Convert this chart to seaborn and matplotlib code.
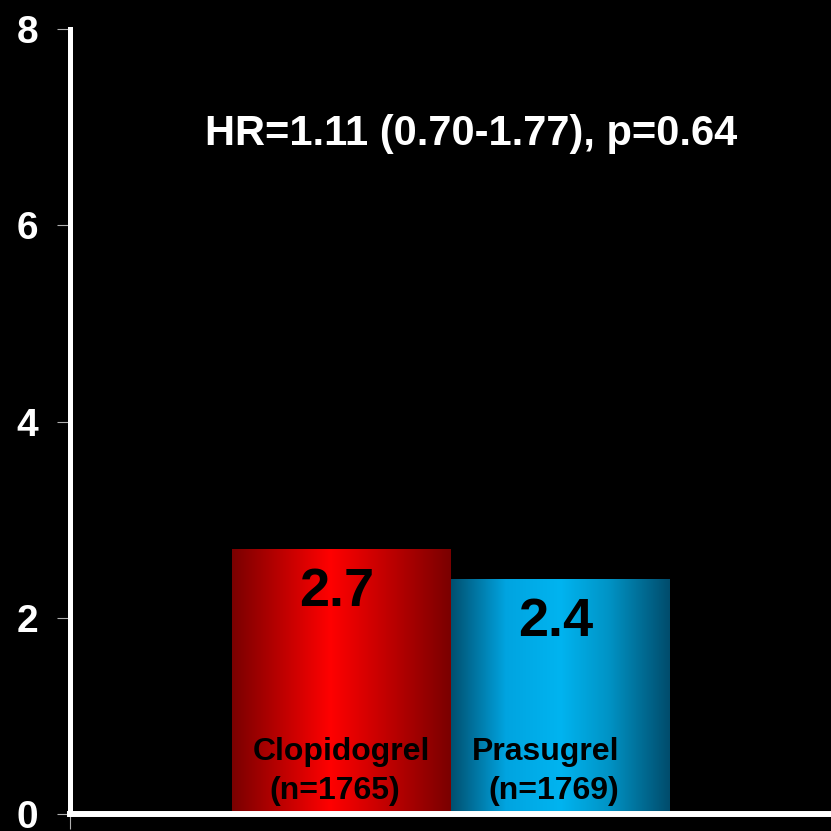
import numpy as np
import pandas as pd
import matplotlib
matplotlib.use("Agg")
import matplotlib.pyplot as plt
import seaborn as sns
from matplotlib.colors import LinearSegmentedColormap

# Event rates (%) by treatment arm
drugs = ["Clopidogrel", "Prasugrel"]
rates = [2.7, 2.4]
n_patients = [1765, 1769]
hr_text = "HR=1.11 (0.70-1.77), p=0.64"
y_ticks = [0, 2, 4, 6, 8]

sns.set_theme(style="white")
plt.rcParams["font.family"] = ["Liberation Sans", "DejaVu Sans"]
plt.rcParams["font.weight"] = "bold"

W = H = 831
fig = plt.figure(figsize=(W / 100, H / 100), dpi=100, facecolor="black")
ax = fig.add_axes([70 / W, 17 / H, 761 / W, 785 / H])
ax.set_facecolor("black")

df = pd.DataFrame({"drug": drugs, "rate": rates})
sns.barplot(data=df, x="drug", y="rate", ax=ax, width=1.0, color="red",
            errorbar=None, saturation=1)

# Cylinder-like horizontal shading for each bar
shades = [
    LinearSegmentedColormap.from_list("red_shade", [
        (0.0, "#7a0000"), (0.45, "#ff0000"), (1.0, "#7a0000")]),
    LinearSegmentedColormap.from_list("blue_shade", [
        (0.0, "#005070"), (0.25, "#00a4e0"), (0.5, "#00b4f0"),
        (0.72, "#0094c6"), (1.0, "#004c6c")]),
]
grad = np.linspace(0, 1, 256).reshape(1, -1)
for patch, cmap in zip(ax.patches, shades):
    x0, y0 = patch.get_x(), patch.get_y()
    w, h = patch.get_width(), patch.get_height()
    im = ax.imshow(grad, cmap=cmap, aspect="auto",
                   extent=(x0, x0 + w, y0, y0 + h), zorder=2,
                   interpolation="bilinear")
    im.set_clip_path(patch)
    patch.set_facecolor("none")
    patch.set_edgecolor("none")
ax.set_xlim(-1.24, 2.235)
ax.set_ylim(0, 8)

# Value labels inside bars
for i, v in enumerate(rates):
    ax.text(i - 0.02, v - 0.44, f"{v:.1f}", ha="center", va="center",
            fontsize=39, fontweight="bold", color="black", zorder=4)

# Arm names with patient counts
name_dx = [0.0, -0.07]
n_dx = [-0.03, -0.03]
for i, (d, n) in enumerate(zip(drugs, n_patients)):
    ax.text(i + name_dx[i], 0.63, d, ha="center", va="center",
            fontsize=23, fontweight="bold", color="black", zorder=4)
    ax.text(i + n_dx[i], 0.235, f"(n={n})", ha="center", va="center",
            fontsize=23, fontweight="bold", color="black", zorder=4)

ax.text(0.5276, 6.93, hr_text, transform=ax.get_yaxis_transform(),
        ha="center", va="center", fontsize=30, fontweight="bold",
        color="white", zorder=4)

# Axes styling
ax.set_xlabel("")
ax.set_ylabel("")
ax.set_yticks(y_ticks)
ax.set_yticklabels([str(t) for t in y_ticks], fontsize=28,
                   fontweight="bold", color="white")
ax.set_xticks([-1.24])
ax.set_xticklabels([""])
ax.tick_params(axis="y", which="major", left=True, direction="out",
               length=9.4, width=0.8, color="#b0b0b0", pad=13.5)
ax.tick_params(axis="x", which="major", bottom=True, direction="out",
               length=11, width=0.8, color="#b0b0b0")
for side in ["top", "right"]:
    ax.spines[side].set_visible(False)
ax.spines["left"].set_color("white")
ax.spines["left"].set_linewidth(3.6)
ax.spines["bottom"].set_color("white")
ax.spines["bottom"].set_linewidth(4.3)
ax.spines["left"].set_zorder(5)
ax.spines["bottom"].set_zorder(5)

fig.savefig("out.png", dpi=100, facecolor="black")
